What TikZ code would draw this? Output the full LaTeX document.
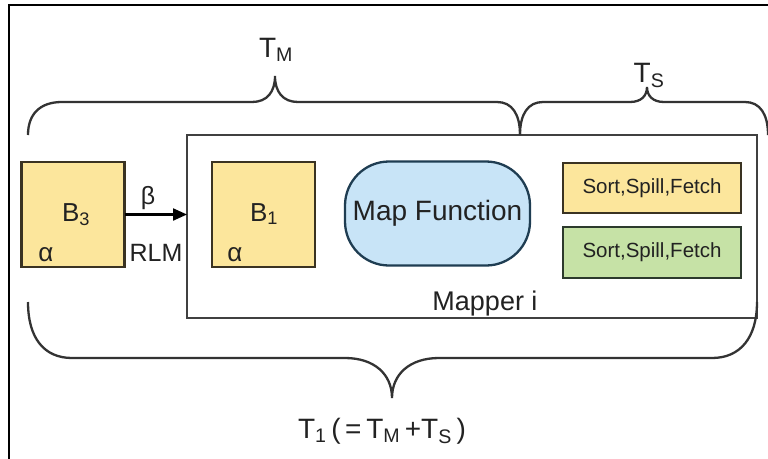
\documentclass[tikz,border=0pt]{standalone}
\usepackage{fontspec}
\setmainfont{Liberation Sans}
\usetikzlibrary{arrows.meta}
\definecolor{yfill}{HTML}{FCE69C}
\definecolor{ydraw}{HTML}{3A3322}
\definecolor{gfill}{HTML}{C6E2A6}
\definecolor{gdraw}{HTML}{2C3A2C}
\definecolor{bfill}{HTML}{C8E4F7}
\definecolor{bdraw}{HTML}{1F3D52}
\definecolor{txt}{HTML}{222222}
\definecolor{brc}{HTML}{333333}
\begin{document}
\begin{tikzpicture}[x=1pt,y=-1pt,
  every node/.style={text=txt, inner sep=0pt, outer sep=0pt},
  fs/.style={font=\fontsize{#1}{#1}\selectfont},
  blockbox/.style={draw=ydraw, fill=yfill, line width=2.3pt, minimum width=103pt, minimum height=105pt},
  yellowbox/.style={draw=ydraw, fill=yfill, line width=2.3pt, minimum width=178pt, minimum height=50pt},
  greenbox/.style={draw=gdraw, fill=gfill, line width=2.3pt, minimum width=178pt, minimum height=51pt},
  mapbox/.style={draw=bdraw, fill=bfill, line width=2.3pt, minimum width=185pt, minimum height=104pt, rounded corners=44pt},
  brace/.style={draw=brc, line width=2.3pt},
  lbl/.style={fs=25},
]
\useasboundingbox (0,0) rectangle (768,458);
\clip (0,0) rectangle (768,458);
\fill[white] (0,0) rectangle (768,458);
\draw[line width=2.4pt, black] (9,5) rectangle (800,490);

% mapper box
\node[draw=black!75, line width=2.8pt, minimum width=570pt, minimum height=183pt] (mapper) at (472,226.5) {};

% blocks
\node[blockbox] (b3) at (73,214.5) {};
\node[fs=26, anchor=base] (b3t) at (76,221) {B\textsubscript{3}};
\node[fs=26, anchor=base] (b3a) at (46,261) {α};
\node[blockbox] (b1) at (263.5,214.5) {};
\node[fs=26, anchor=base] (b1t) at (264,221) {B\textsubscript{1}};
\node[fs=26, anchor=base] (b1a) at (235,261) {α};

% arrow
\draw[line width=2.2pt, black, -{Triangle[length=14pt,width=12pt]}] (b3.east) -- (mapper.west |- b3.east);
\node[lbl, anchor=base] (beta) at (148,204) {β};
\node[lbl, anchor=base] (rlm) at (156,261) {RLM};

% map function
\node[mapbox, fs=28] (mapf) at (437.5,213.5) {Map Function};

% sort boxes
\node[yellowbox, fs=20.5] (sort1) at (652,188) {Sort,Spill,Fetch};
\node[greenbox, fs=20.5] (sort2) at (652,252.5) {Sort,Spill,Fetch};

\node[fs=27, anchor=base] (mlabel) at (485,310) {Mapper i};

% braces
\draw[brace] (28,135) .. controls (28,114) and (40,102) .. (62,102) -- (252,102)
  .. controls (267,102) and (275,92) .. (275,76)
  .. controls (275,92) and (283,102) .. (298,102) -- (497,102)
  .. controls (512,102) and (520,114) .. (520,135);
\draw[brace] (520,135) .. controls (520,114) and (528,102) .. (543,102) -- (630,102)
  .. controls (641,102) and (647,96) .. (647,87)
  .. controls (647,96) and (653,102) .. (664,102) -- (745,102)
  .. controls (760,102) and (768,114) .. (768,135);
\draw[brace] (28,302) .. controls (28,338) and (44,358) .. (72,358) -- (345,358)
  .. controls (374,358) and (392,374) .. (392,398)
  .. controls (392,374) and (410,358) .. (439,358) -- (712,358)
  .. controls (740,358) and (757,338) .. (757,302);

\node[fs=28, anchor=base] (tm) at (276,57) {T\textsubscript{M}};
\node[fs=28, anchor=base] (ts) at (649,82) {T\textsubscript{S}};
\node[fs=28, anchor=base] (t1) at (382,438) {T\textsubscript{1}\,(\,=\,T\textsubscript{M}\,+T\textsubscript{S}\,)};
\end{tikzpicture}
\end{document}
